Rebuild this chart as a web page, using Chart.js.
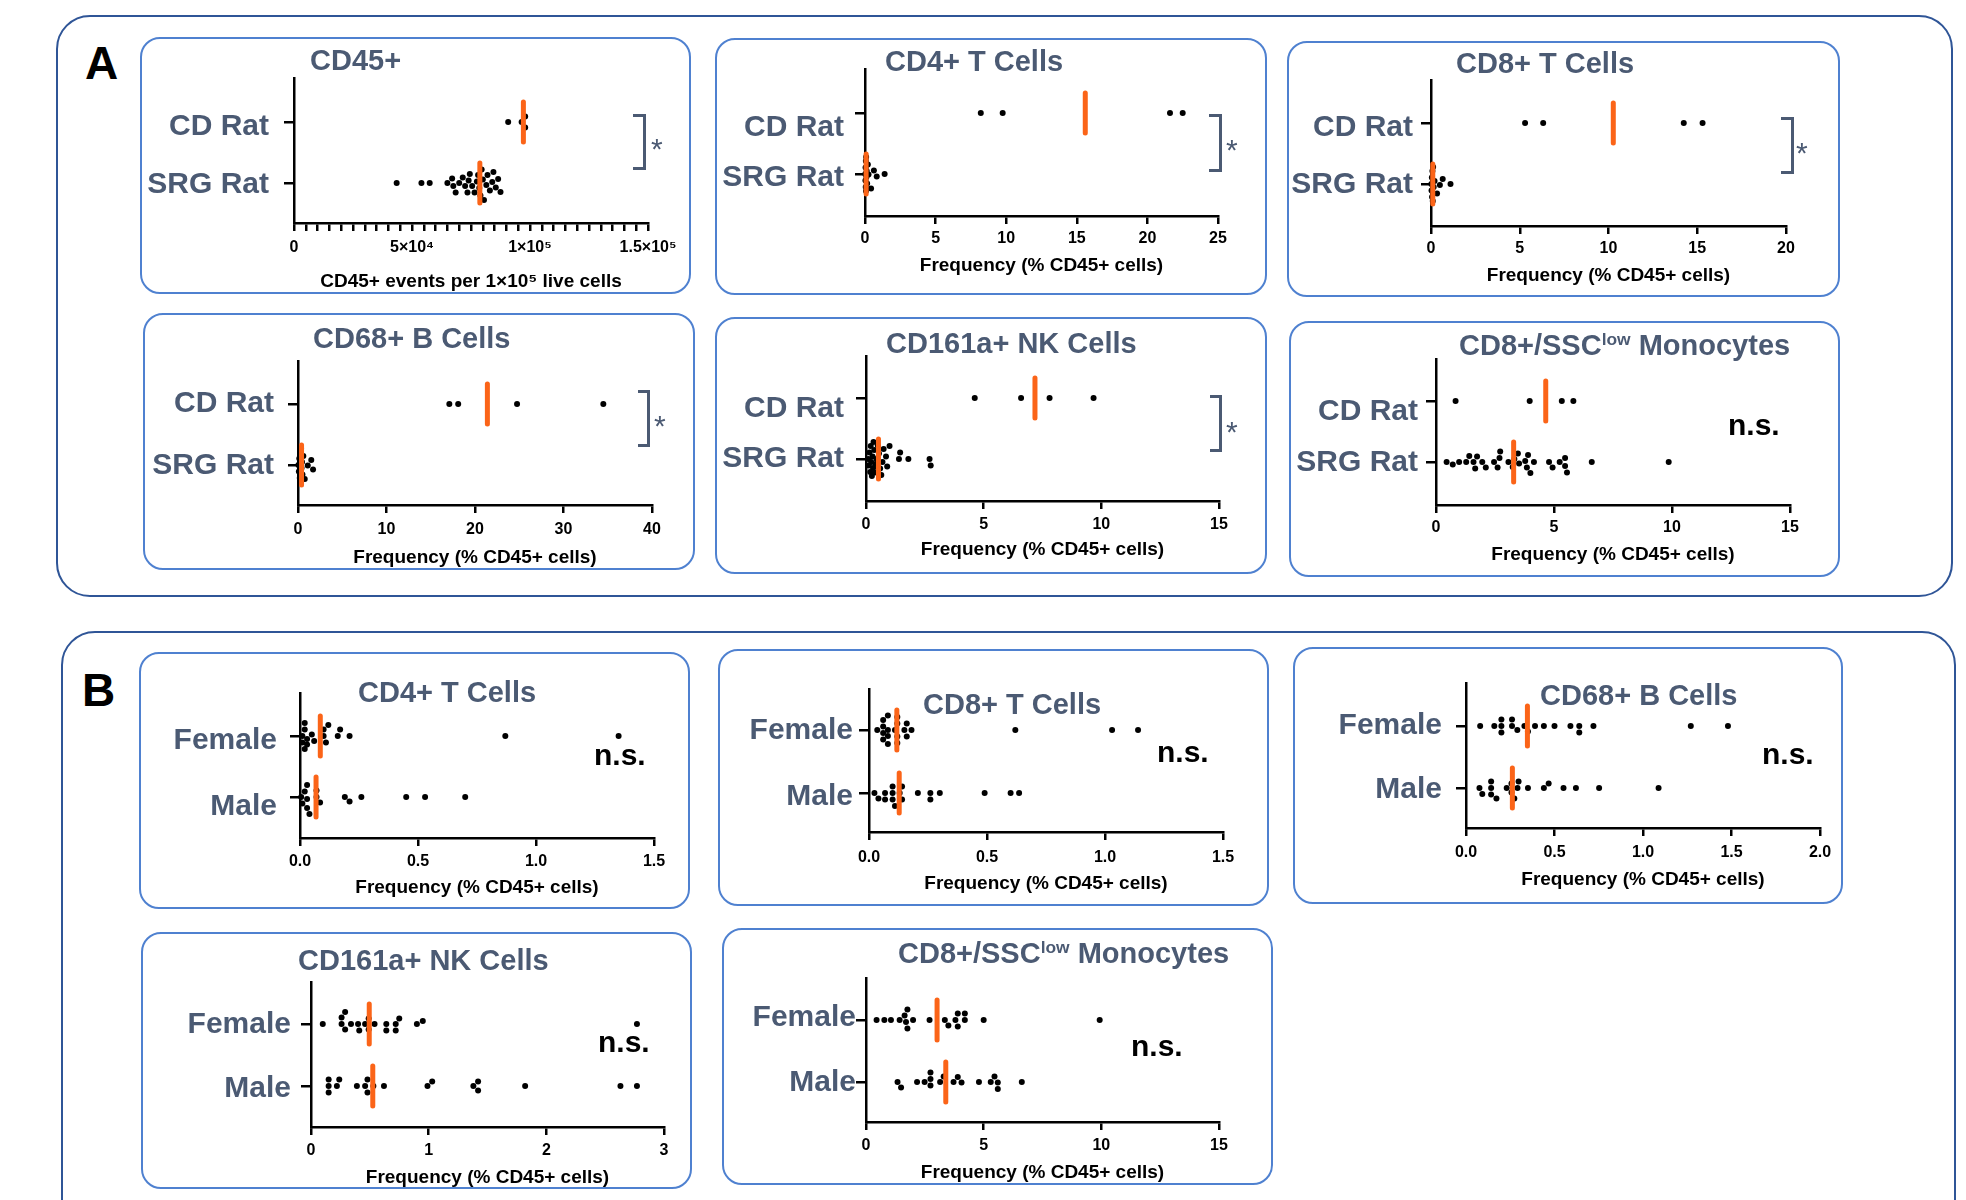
<!DOCTYPE html>
<html>
<head>
<meta charset="utf-8">
<script src="https://cdn.jsdelivr.net/npm/chart.js"></script>
<style>
  body { margin: 0; background: #fff; }
  #fig { position: relative; width: 1966px; height: 1200px; overflow: hidden; font-family: 'Liberation Sans', Arial, sans-serif; }
  .section { position: absolute; border: 2.5px solid #2f5597; border-radius: 34px; box-sizing: border-box; }
  .panel { position: absolute; border: 2.5px solid #4f81d0; border-radius: 20px; box-sizing: border-box; }
  .letter { position: absolute; font-weight: bold; font-size: 46px; line-height: 1; color: #000; }
  .title { position: absolute; font-weight: bold; font-size: 29px; line-height: 1; color: #4b5a73; white-space: nowrap; }
  .title sup { font-size: 0.6em; vertical-align: 0.55em; line-height: 0; }
  .ylab { position: absolute; font-weight: bold; font-size: 30px; line-height: 1; color: #4b5a73; white-space: nowrap; text-align: right; }
  .ns { position: absolute; font-weight: bold; font-size: 30px; line-height: 1; color: #000; }
  .star { position: absolute; font-size: 30px; line-height: 1; color: #4b5a73; }
  .bracket { position: absolute; border: 3px solid #4b5a73; border-left: none; box-sizing: border-box; }
  canvas { position: absolute; }
</style>
</head>
<body>
<div id="fig">
  <div class="section" style="left:56px;top:15px;width:1897px;height:582px"></div>
  <div class="section" style="left:61px;top:631px;width:1895px;height:620px"></div>
  <div class="letter" style="left:85px;top:40px">A</div>
  <div class="letter" style="left:82px;top:667px">B</div>
</div>

<script>
// ---- data ----
const ratGroups = ['CD Rat', 'SRG Rat'];
const sexGroups = ['Female', 'Male'];

// A: CD rat vs SRG rat
const cd45Cd = [90750, 96450, 97950, 97950];
const cd45Srg = [43500, 54000, 57500, 65000, 67000, 67500, 68500, 70000, 71500, 72500, 73500, 74000, 74500, 75500, 76500,
                 77500, 78000, 78500, 79000, 79500, 80000, 80500, 81500, 82000, 83000, 84000, 84500, 85500, 86500, 87500];
const cd45Median = [97200, 78750];
const cd45TickLabels = ['0', '5×10⁴', '1×10⁵', '1.5×10⁵'];

const cd4Cd = [8.2, 9.75, 21.6, 22.5];
const cd4Srg = [0.02, 0.03, 0.04, 0.05, 0.06, 0.07, 0.08, 0.1, 0.12, 0.15, 0.2, 0.25, 0.43, 0.63, 0.83, 1.39];
const cd4Median = [15.6, 0.08];
const cd4Ticks = [0, 5, 10, 15, 20, 25];

const cd8Cd = [5.3, 6.32, 14.24, 15.3];
const cd8Srg = [0.02, 0.03, 0.05, 0.06, 0.08, 0.1, 0.12, 0.15, 0.2, 0.34, 0.5, 0.66, 1.1];
const cd8Median = [10.27, 0.1];
const cd8Ticks = [0, 5, 10, 15, 20];

const cd68Cd = [17.1, 18.1, 24.75, 34.5];
const cd68Srg = [0.05, 0.1, 0.15, 0.2, 0.25, 0.3, 0.35, 0.4, 0.45, 0.5, 0.6, 0.76, 1.1, 1.5, 1.7];
const cd68Median = [21.4, 0.4];
const cd68Ticks = [0, 10, 20, 30, 40];

const cd161Cd = [4.62, 6.59, 7.8, 9.67];
const cd161Srg = [0.1, 0.12, 0.15, 0.18, 0.2, 0.22, 0.25, 0.28, 0.3, 0.32, 0.35, 0.38, 0.4, 0.45, 0.5, 0.55, 0.6, 0.65,
                  0.7, 0.75, 0.85, 0.9, 1.0, 1.4, 1.45, 1.8, 2.7, 2.75];
const cd161Median = [7.18, 0.53];
const cd161Ticks = [0, 5, 10, 15];

const monoCd = [0.83, 3.97, 5.33, 5.82];
const monoSrg = [0.45, 0.71, 0.98, 1.28, 1.41, 1.59, 1.66, 1.74, 1.96, 2.11, 2.46, 2.61, 2.69, 2.72, 3.07, 3.25, 3.32,
                 3.47, 3.52, 3.78, 3.85, 3.9, 4.0, 4.15, 4.79, 4.94, 5.24, 5.47, 5.47, 5.55, 6.6, 9.86];
const monoMedian = [4.65, 3.29];
const monoTicks = [0, 5, 10, 15];

// B: female vs male
const sexCd4F = [0.01, 0.01, 0.02, 0.02, 0.02, 0.03, 0.03, 0.05, 0.06, 0.1, 0.1, 0.11, 0.12, 0.16, 0.17, 0.21, 0.87, 1.35];
const sexCd4M = [0.005, 0.01, 0.02, 0.03, 0.03, 0.03, 0.04, 0.07, 0.07, 0.085, 0.19, 0.21, 0.26, 0.45, 0.53, 0.7];
const sexCd4Median = [0.086, 0.068];

const sexCd8F = [0.035, 0.06, 0.06, 0.06, 0.06, 0.08, 0.08, 0.08, 0.08, 0.11, 0.12, 0.12, 0.12, 0.12, 0.15, 0.16, 0.16,
                 0.18, 0.62, 1.03, 1.14];
const sexCd8M = [0.023, 0.04, 0.068, 0.068, 0.1, 0.1, 0.1, 0.11, 0.13, 0.14, 0.14, 0.207, 0.26, 0.26, 0.3, 0.49, 0.6, 0.636];
const sexCd8Median = [0.118, 0.128];

const sexCd68F = [0.08, 0.16, 0.2, 0.2, 0.2, 0.26, 0.26, 0.29, 0.33, 0.35, 0.39, 0.44, 0.5, 0.59, 0.64, 0.64, 0.72, 1.27, 1.48];
const sexCd68M = [0.076, 0.092, 0.142, 0.142, 0.142, 0.172, 0.23, 0.257, 0.257, 0.273, 0.291, 0.297, 0.35, 0.44, 0.467,
                  0.551, 0.621, 0.752, 1.088];
const sexCd68Median = [0.347, 0.262];

const sexCd161F = [0.1, 0.26, 0.26, 0.29, 0.29, 0.34, 0.4, 0.41, 0.46, 0.49, 0.49, 0.54, 0.64, 0.64, 0.72, 0.72, 0.75, 0.9,
                   0.95, 2.77];
const sexCd161M = [0.15, 0.15, 0.15, 0.22, 0.24, 0.39, 0.46, 0.48, 0.48, 0.53, 0.62, 0.99, 1.03, 1.38, 1.42, 1.42, 1.82,
                   2.63, 2.77];
const sexCd161Median = [0.495, 0.525];

const sexMonoF = [0.45, 0.78, 1.06, 1.43, 1.64, 1.7, 1.76, 1.76, 2.0, 2.7, 3.35, 3.5, 3.8, 3.9, 3.9, 4.2, 4.2, 5.0, 9.93];
const sexMonoM = [1.34, 1.49, 2.17, 2.49, 2.74, 2.74, 2.74, 3.15, 3.3, 3.72, 3.9, 4.06, 4.8, 5.3, 5.46, 5.6, 5.6, 6.62];
const sexMonoMedian = [3.02, 3.39];

const ticks15 = [0, 0.5, 1, 1.5];
const ticks20 = [0, 0.5, 1, 1.5, 2];
const ticks3 = [0, 1, 2, 3];

const freqTitle = 'Frequency (% CD45+ cells)';
const monoTitle = 'CD8+/SSC<sup>low</sup> Monocytes';

// ---- panels ----
const cd45Ticks = Array.from({ length: 31 }, (_, i) => i * 5000);

const panels = [
  { title: 'CD45+', groups: ratGroups, upper: cd45Cd, lower: cd45Srg, median: cd45Median, ticks: cd45Ticks,
    tickText: v => (v % 50000 === 0 ? cd45TickLabels[v / 50000] : ''), xTitle: 'CD45+ events per 1×10⁵ live cells', sig: '*',
    box: [140, 37, 691, 294], titleAt: [310, 60], axisX: 294, top: 78, base: 223, right: 648, rows: [122, 183],
    labelRight: 269, labelY: [125, 183], tickY: 248, xTitleY: 282, bracket: [633, 114, 646, 170], mark: [657, 142] },
  { title: 'CD4+ T Cells', groups: ratGroups, upper: cd4Cd, lower: cd4Srg, median: cd4Median, ticks: cd4Ticks, sig: '*',
    box: [715, 38, 1267, 295], titleAt: [885, 61], axisX: 865, top: 69, base: 216, right: 1218, rows: [113, 174],
    labelRight: 844, labelY: [126, 176], tickY: 239, xTitleY: 266, bracket: [1209, 114, 1222, 172], mark: [1232, 143] },
  { title: 'CD8+ T Cells', groups: ratGroups, upper: cd8Cd, lower: cd8Srg, median: cd8Median, ticks: cd8Ticks, sig: '*',
    box: [1287, 41, 1840, 297], titleAt: [1456, 63], axisX: 1431, top: 80, base: 226, right: 1786, rows: [123, 184],
    labelRight: 1413, labelY: [126, 183], tickY: 249, xTitleY: 276, bracket: [1781, 117, 1794, 174], mark: [1802, 146] },
  { title: 'CD68+ B Cells', groups: ratGroups, upper: cd68Cd, lower: cd68Srg, median: cd68Median, ticks: cd68Ticks, sig: '*',
    box: [143, 313, 695, 570], titleAt: [313, 338], axisX: 298, top: 361, base: 505, right: 652, rows: [404, 465],
    labelRight: 274, labelY: [402, 464], tickY: 530, xTitleY: 558, bracket: [638, 390, 650, 447], mark: [660, 419] },
  { title: 'CD161a+ NK Cells', groups: ratGroups, upper: cd161Cd, lower: cd161Srg, median: cd161Median, ticks: cd161Ticks, sig: '*',
    box: [715, 317, 1267, 574], titleAt: [886, 343], axisX: 866, top: 356, base: 501, right: 1219, rows: [398, 459],
    labelRight: 844, labelY: [407, 457], tickY: 525, xTitleY: 550, bracket: [1210, 395, 1222, 452], mark: [1232, 425] },
  { title: monoTitle, groups: ratGroups, upper: monoCd, lower: monoSrg, median: monoMedian, ticks: monoTicks, sig: 'n.s.',
    box: [1289, 321, 1840, 577], titleAt: [1459, 345], axisX: 1436, top: 359, base: 505, right: 1790, rows: [401, 462],
    labelRight: 1418, labelY: [410, 461], tickY: 528, xTitleY: 555, mark: [1728, 428] },

  { title: 'CD4+ T Cells', groups: sexGroups, upper: sexCd4F, lower: sexCd4M, median: sexCd4Median, ticks: ticks15, decimals: 1, sig: 'n.s.',
    box: [139, 652, 690, 909], titleAt: [358, 692], axisX: 300, top: 693, base: 838, right: 654, rows: [736, 797],
    labelRight: 277, labelY: [739, 805], tickY: 862, xTitleY: 888, mark: [594, 758] },
  { title: 'CD8+ T Cells', groups: sexGroups, upper: sexCd8F, lower: sexCd8M, median: sexCd8Median, ticks: ticks15, decimals: 1, sig: 'n.s.',
    box: [718, 649, 1269, 906], titleAt: [923, 704], axisX: 869, top: 689, base: 832, right: 1223, rows: [730, 793],
    labelRight: 853, labelY: [729, 795], tickY: 858, xTitleY: 884, mark: [1157, 755] },
  { title: 'CD68+ B Cells', groups: sexGroups, upper: sexCd68F, lower: sexCd68M, median: sexCd68Median, ticks: ticks20, decimals: 1, sig: 'n.s.',
    box: [1293, 647, 1843, 904], titleAt: [1540, 695], axisX: 1466, top: 683, base: 828, right: 1820, rows: [726, 788],
    labelRight: 1442, labelY: [724, 788], tickY: 853, xTitleY: 880, mark: [1762, 757] },
  { title: 'CD161a+ NK Cells', groups: sexGroups, upper: sexCd161F, lower: sexCd161M, median: sexCd161Median, ticks: ticks3, sig: 'n.s.',
    box: [141, 932, 692, 1189], titleAt: [298, 960], axisX: 311, top: 982, base: 1127, right: 664, rows: [1024, 1086],
    labelRight: 291, labelY: [1023, 1087], tickY: 1151, xTitleY: 1178, mark: [598, 1045] },
  { title: monoTitle, groups: sexGroups, upper: sexMonoF, lower: sexMonoM, median: sexMonoMedian, ticks: monoTicks, sig: 'n.s.',
    box: [722, 928, 1273, 1185], titleAt: [898, 953], axisX: 866, top: 978, base: 1122, right: 1219, rows: [1020, 1082],
    labelRight: 856, labelY: [1016, 1081], tickY: 1146, xTitleY: 1173, mark: [1131, 1049] }
];

const fam = "'Liberation Sans', Arial, sans-serif";
Chart.defaults.font.family = fam;
const orange = '#fb6418';
const fig = document.getElementById('fig');

const roundCaps = {
  id: 'roundCaps',
  beforeDatasetsDraw(chart) { chart.ctx.lineCap = 'round'; },
  afterDatasetsDraw(chart) { chart.ctx.lineCap = 'butt'; }
};

// simple beeswarm: returns vertical pixel offsets for each x pixel
function swarmOffsets(pixels, D, maxDy) {
  const order = pixels.map((p, i) => i).sort((a, b) => pixels[a] - pixels[b]);
  const placed = [];
  const out = [];
  order.forEach((i, n) => {
    const px = pixels[i];
    const near = placed.filter(q => Math.abs(q.x - px) < D);
    let best = 0, bestScore = -1;
    for (let s = 0; s <= maxDy && bestScore !== Infinity; s += 0.5) {
      const cands = s === 0 ? [0] : (n % 2 ? [s, -s] : [-s, s]);
      for (const dy of cands) {
        let m = Infinity;
        near.forEach(q => { m = Math.min(m, Math.hypot(q.x - px, q.y - dy)); });
        if (m >= D) { best = dy; bestScore = Infinity; break; }
        if (m > bestScore) { bestScore = m; best = dy; }
      }
    }
    placed.push({ x: px, y: best });
    out[i] = best;
  });
  return out;
}

function addDiv(cls, html, left, top, extra) {
  const d = document.createElement('div');
  d.className = cls;
  d.innerHTML = html;
  if (left !== null) d.style.left = left + 'px';
  d.style.top = top + 'px';
  if (extra) Object.assign(d.style, extra);
  fig.appendChild(d);
  return d;
}

panels.forEach(p => {
  const [bx, by, bx2, by2] = p.box;
  addDiv('panel', '', bx, by, { width: (bx2 - bx) + 'px', height: (by2 - by) + 'px' });

  const cv = document.createElement('canvas');
  cv.width = bx2 - bx;
  cv.height = by2 - by;
  cv.style.left = bx + 'px';
  cv.style.top = by + 'px';
  fig.appendChild(cv);

  const u = p.rows[1] - p.rows[0];
  const yMax = 1 + (p.rows[0] - p.top) / u;
  const yMin = -(p.base - p.rows[1]) / u;
  const tickFont = 16, titleFont = 19;

  const pts = (vals, cat) => vals.map(v => ({ x: v, y: cat }));
  const dotStyle = { pointRadius: 3, pointBackgroundColor: '#000', pointBorderWidth: 0, clip: false };

  const chart = new Chart(cv, {
    type: 'scatter',
    data: {
      datasets: [
        { data: [{ x: p.median[0], y: 1 }, { x: p.median[1], y: 0 }], pointStyle: 'line', rotation: 90,
          pointRadius: 20, pointBorderWidth: 5, pointBorderColor: orange, pointBackgroundColor: orange, clip: false },
        Object.assign({ data: pts(p.upper, 1) }, dotStyle),
        Object.assign({ data: pts(p.lower, 0) }, dotStyle)
      ]
    },
    options: {
      responsive: false,
      animation: false,
      events: [],
      layout: { autoPadding: false, padding: { left: 0, top: p.top - by, right: bx2 - p.right, bottom: 0 } },
      plugins: { legend: { display: false }, tooltip: { enabled: false } },
      scales: {
        x: {
          type: 'linear',
          min: p.ticks[0],
          max: p.ticks[p.ticks.length - 1],
          afterBuildTicks: ax => { ax.ticks = p.ticks.map(v => ({ value: v })); },
          afterFit: ax => { ax.height = by2 - p.base; },
          ticks: {
            autoSkip: false, maxRotation: 0,
            callback: v => (p.tickText ? p.tickText(v) : (p.decimals ? v.toFixed(p.decimals) : String(v))),
            font: { size: tickFont, weight: 'bold' }, color: '#000',
            padding: p.tickY - p.base - 8 - tickFont * 0.6
          },
          grid: { drawOnChartArea: false, drawTicks: true, tickLength: 8, color: '#000', lineWidth: 2.5 },
          border: { display: true, color: '#000', width: 2.5 },
          title: {
            display: true, text: p.xTitle || freqTitle, color: '#000',
            font: { size: titleFont, weight: 'bold' },
            padding: { top: 0, bottom: by2 - p.xTitleY - titleFont * 0.6 }
          }
        },
        y: {
          type: 'linear',
          min: yMin,
          max: yMax,
          afterBuildTicks: ax => { ax.ticks = [{ value: 0 }, { value: 1 }]; },
          afterFit: ax => { ax.width = p.axisX - bx; },
          // group names are placed as text labels next to the axis (they sit a little off the tick marks)
          ticks: { callback: () => '' },
          grid: { drawOnChartArea: false, drawTicks: true, tickLength: 10, color: '#000', lineWidth: 2.5 },
          border: { display: true, color: '#000', width: 2.5 }
        }
      }
    },
    plugins: [roundCaps]
  });

  // spread points of each group vertically (beeswarm), then redraw
  const xs = chart.scales.x, ys = chart.scales.y;
  const unit = ys.getPixelForValue(0) - ys.getPixelForValue(1);
  [[p.upper, 1, 1], [p.lower, 0, 2]].forEach(([vals, cat, di]) => {
    const dys = swarmOffsets(vals.map(v => xs.getPixelForValue(v)), 6.5, 17);
    chart.data.datasets[di].data = vals.map((v, i) => ({ x: v, y: cat - dys[i] / unit }));
  });
  chart.update('none');

  p.groups.forEach((g, i) => {
    addDiv('ylab', g, null, p.labelY[i] - 30 * 0.488, { right: (1966 - p.labelRight) + 'px' });
  });
  addDiv('title', p.title, p.titleAt[0], p.titleAt[1] - 29 * 0.488);
  if (p.sig === '*') {
    const [l, t, r, b] = p.bracket;
    addDiv('bracket', '', l, t, { width: (r - l) + 'px', height: (b - t) + 'px' });
    addDiv('star', '*', p.mark[0] - 6, p.mark[1] - 8);
  } else {
    addDiv('ns', 'n.s.', p.mark[0], p.mark[1] - 30 * 0.586);
  }
});
</script>
</body>
</html>
